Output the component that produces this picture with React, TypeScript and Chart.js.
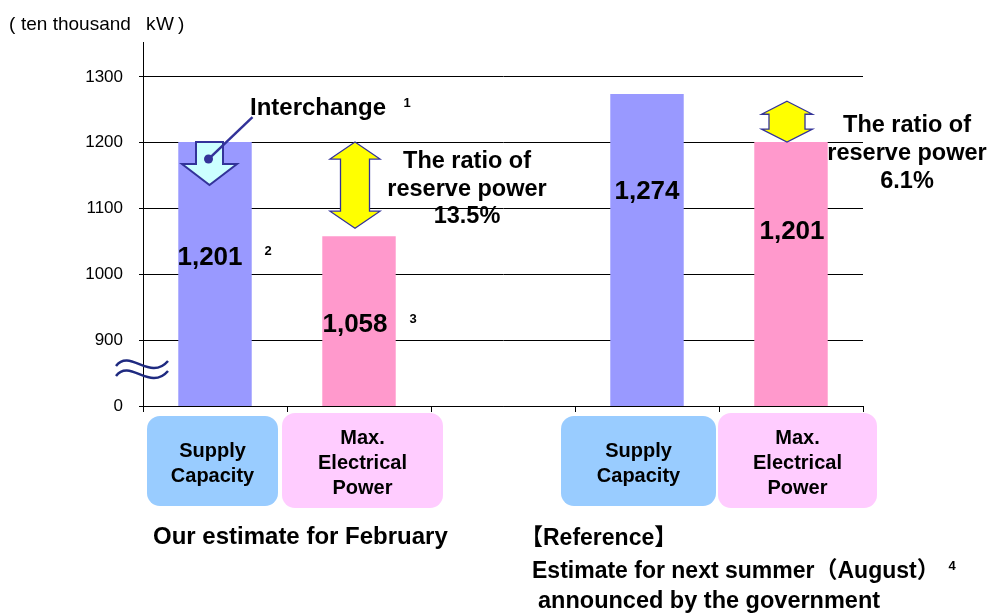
import { useEffect, useRef } from 'react';
import { Chart, registerables } from 'chart.js';

Chart.register(...registerables);

const FONT = '"Liberation Sans", Arial, "Noto Sans CJK JP", sans-serif';

// ---- data ----
const categories = ['Supply Capacity', 'Max. Electrical Power', '', 'Supply Capacity', 'Max. Electrical Power'];
const categoryLines = [['Supply', 'Capacity'], ['Max.', 'Electrical', 'Power'], [], ['Supply', 'Capacity'], ['Max.', 'Electrical', 'Power']];
const values = [1201, 1058, null, 1274, 1201];
const valueLabels = ['1,201', '1,058', '', '1,274', '1,201'];
const valueNotes = ['2', '3', '', '', ''];
const barColors = ['#9999FF', '#FF99CC', '#FFFFFF', '#9999FF', '#FF99CC'];
const boxColors = ['#99CCFF', '#FFCCFF', '', '#99CCFF', '#FFCCFF'];
const yTicks = [800, 900, 1000, 1100, 1200, 1300];
const yTickLabels = ['0', '900', '1000', '1100', '1200', '1300'];
const unitLabel = ['(', 'ten thousand', 'k', 'W', ')'];
const reserveLines1 = ['The ratio of', 'reserve power', '13.5%'];
const reserveLines2 = ['The ratio of', 'reserve power', '6.1%'];
const summerTop = 1263;
const groupTitle1 = 'Our estimate for February';
const groupTitle2 = ['【Reference】', 'Estimate for next summer（August）', 'announced by the government'];

// ---- layout (pixels) ----
const labelLayout = [[-5, 265], [-4, 332], null, [0, 199], [1, 239]];
const noteLayout = [[53, 255], [54, 323]];
const boxLayout = [[-2.5, 131, 416, 506], [3.5, 161, 413, 508], null, [-8.5, 155, 416, 506], [6.5, 159, 413, 508]];

export default function App() {
  const ref = useRef<HTMLCanvasElement>(null);

  useEffect(() => {
    const canvas = ref.current!;

    const txt = (ctx: CanvasRenderingContext2D, s: string, x: number, y: number, size: number, bold: boolean, align: CanvasTextAlign = 'left') => {
      ctx.font = `${bold ? 'bold ' : ''}${size}px ${FONT}`;
      ctx.textAlign = align;
      ctx.textBaseline = 'alphabetic';
      ctx.fillStyle = '#000';
      ctx.fillText(s, x, y);
    };

    const dblArrow = (ctx: CanvasRenderingContext2D, cx: number, top: number, bottom: number, headW: number, headH: number, shaftW: number) => {
      ctx.beginPath();
      ctx.moveTo(cx, top);
      ctx.lineTo(cx + headW / 2, top + headH);
      ctx.lineTo(cx + shaftW / 2, top + headH);
      ctx.lineTo(cx + shaftW / 2, bottom - headH);
      ctx.lineTo(cx + headW / 2, bottom - headH);
      ctx.lineTo(cx, bottom);
      ctx.lineTo(cx - headW / 2, bottom - headH);
      ctx.lineTo(cx - shaftW / 2, bottom - headH);
      ctx.lineTo(cx - shaftW / 2, top + headH);
      ctx.lineTo(cx - headW / 2, top + headH);
      ctx.closePath();
      ctx.fillStyle = '#FFFF00';
      ctx.fill();
      ctx.strokeStyle = '#333399';
      ctx.lineWidth = 1.3;
      ctx.stroke();
    };

    const annot = {
      id: 'annot',
      afterDraw(chart: any) {
        const { ctx, scales } = chart;
        const x = scales.x;
        const y = scales.y;
        const cx = (i: number) => x.getPixelForValue(i);
        ctx.save();

        // unit label
        ctx.font = `19px ${FONT}`;
        txt(ctx, unitLabel[0], 9, 30, 19, false);
        txt(ctx, unitLabel[1], 21, 30, 19, false);
        txt(ctx, unitLabel[2], 146, 30, 19, false);
        txt(ctx, unitLabel[3], 156, 30, 19, false);
        txt(ctx, unitLabel[4], 178, 30, 19, false);

        // axis break mark
        ctx.strokeStyle = '#1F2A80';
        ctx.lineWidth = 2.5;
        for (const dy of [0, 10]) {
          ctx.beginPath();
          ctx.moveTo(116, 366 + dy);
          ctx.bezierCurveTo(130, 348 + dy, 150, 382 + dy, 168, 361 + dy);
          ctx.stroke();
        }

        // value labels
        values.forEach((v, i) => {
          const l = labelLayout[i];
          if (v == null || !l) return;
          txt(ctx, valueLabels[i], cx(i) + l[0], l[1], 26, true, 'center');
        });
        noteLayout.forEach((n, i) => {
          txt(ctx, valueNotes[i], cx(i) + n[0], n[1], 13, true, 'center');
        });

        // interchange arrow (bar 0)
        const top0 = y.getPixelForValue(values[0]);
        const ax = cx(0) - 5.5;
        ctx.beginPath();
        ctx.moveTo(ax - 13.5, top0);
        ctx.lineTo(ax + 13.5, top0);
        ctx.lineTo(ax + 13.5, top0 + 22);
        ctx.lineTo(ax + 27.5, top0 + 22);
        ctx.lineTo(ax, top0 + 43);
        ctx.lineTo(ax - 27.5, top0 + 22);
        ctx.lineTo(ax - 13.5, top0 + 22);
        ctx.closePath();
        ctx.fillStyle = '#CCFFFF';
        ctx.fill();
        ctx.strokeStyle = '#333399';
        ctx.lineWidth = 2;
        ctx.stroke();
        ctx.beginPath();
        ctx.moveTo(ax - 1, top0 + 17);
        ctx.lineTo(ax + 43, top0 - 25);
        ctx.lineWidth = 2.5;
        ctx.stroke();
        ctx.beginPath();
        ctx.arc(ax - 1, top0 + 17, 4.5, 0, Math.PI * 2);
        ctx.fillStyle = '#333399';
        ctx.fill();
        txt(ctx, 'Interchange', 250, 115, 24, true);
        txt(ctx, '1', 407, 107, 13, true, 'center');

        // reserve arrows
        const a1x = cx(1) - 4;
        dblArrow(ctx, a1x, y.getPixelForValue(values[0]), y.getPixelForValue(values[1]) - 8, 50, 17, 29);
        reserveLines1.forEach((s, i) => txt(ctx, s, 467, 168 + i * 27.5, 23.5, true, 'center'));

        const a2x = cx(4) - 4;
        dblArrow(ctx, a2x, y.getPixelForValue(summerTop), y.getPixelForValue(values[4]), 51, 13, 36);
        reserveLines2.forEach((s, i) => txt(ctx, s, 907, 132 + i * 28, 23.5, true, 'center'));

        // category boxes
        categoryLines.forEach((lines, i) => {
          const b = boxLayout[i];
          if (!b || !lines.length) return;
          const bx = cx(i) + b[0];
          const w = b[1];
          ctx.beginPath();
          ctx.roundRect(bx - w / 2, b[2], w, b[3] - b[2], 13);
          ctx.fillStyle = boxColors[i];
          ctx.fill();
          const base = lines.length === 2 ? 457 : 444;
          lines.forEach((s, j) => txt(ctx, s, bx, base + j * 25, 20, true, 'center'));
        });

        // group titles
        txt(ctx, groupTitle1, 153, 544, 24, true);
        txt(ctx, groupTitle2[0], 520, 545, 23, true);
        txt(ctx, groupTitle2[1], 532, 578, 23, true);
        txt(ctx, '4', 952, 570, 13, true, 'center');
        txt(ctx, groupTitle2[2], 538, 608, 23.5, true);

        ctx.restore();
      },
    };

    const chart = new Chart(canvas, {
      type: 'bar',
      data: {
        labels: categories,
        datasets: [
          {
            data: values as any,
            backgroundColor: barColors,
            barPercentage: 0.51,
            categoryPercentage: 1,
          },
        ],
      },
      options: {
        responsive: false,
        animation: false,
        devicePixelRatio: 1,
        layout: { padding: { left: 0, top: 42, right: 125, bottom: 0 } },
        plugins: { legend: { display: false }, tooltip: { enabled: false } },
        scales: {
          x: {
            offset: true,
            grid: { offset: true, drawOnChartArea: false, drawTicks: true, tickLength: 6, color: '#000' },
            border: { color: '#000', width: 1 },
            ticks: { display: false },
            afterFit: (s: any) => {
              s.height = 207;
            },
          },
          y: {
            min: 800,
            max: 1353,
            afterBuildTicks: (s: any) => {
              s.ticks = yTicks.map((v) => ({ value: v }));
            },
            grid: { color: '#000', tickLength: 4 },
            border: { color: '#000', width: 1 },
            ticks: {
              font: { family: FONT, size: 17 },
              color: '#000',
              padding: 16,
              callback: (_v: any, i: number) => yTickLabels[i],
            },
            afterFit: (s: any) => {
              s.width = 143;
            },
          },
        },
      },
      plugins: [annot],
    });
    return () => chart.destroy();
  }, []);

  return (
    <div style={{ position: 'absolute', left: 0, top: 0, width: 988, height: 613, background: '#fff' }}>
      <canvas ref={ref} width={988} height={613} style={{ display: 'block' }} />
    </div>
  );
}
